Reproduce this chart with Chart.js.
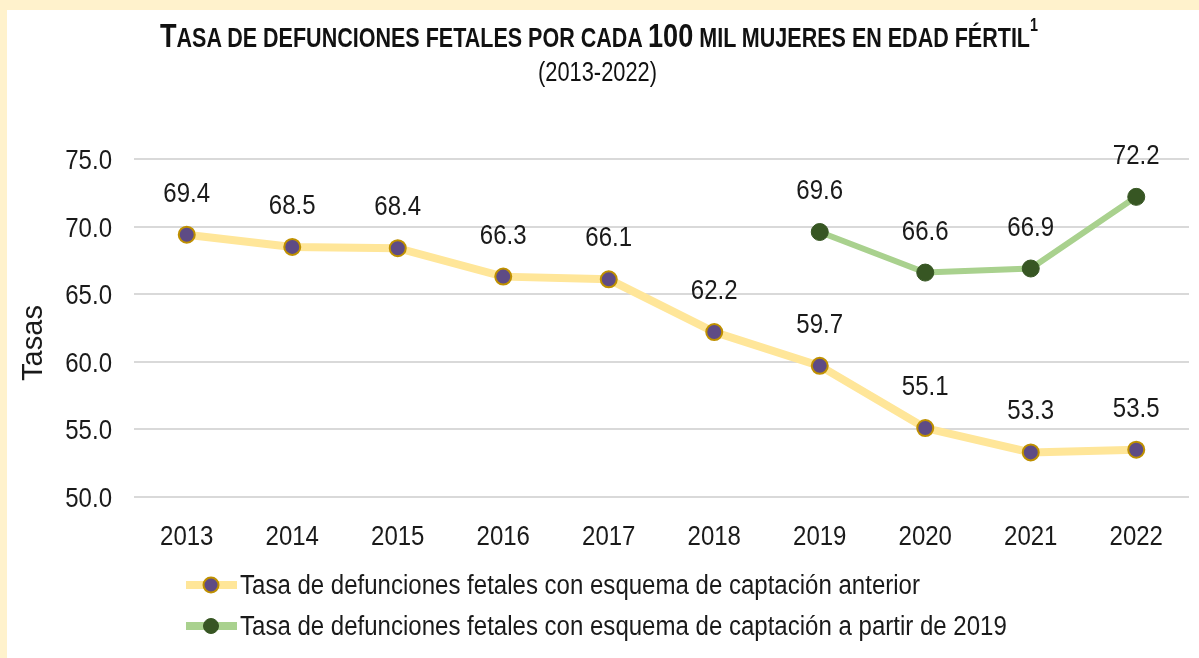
<!DOCTYPE html>
<html><head><meta charset="utf-8">
<script src="https://cdn.jsdelivr.net/npm/chart.js@4.4.1/dist/chart.umd.min.js"></script>
<style>
html,body{margin:0;padding:0;width:1199px;height:658px;background:#FFF2CC;overflow:hidden;}
#panel{position:absolute;left:7px;top:10px;width:1192px;height:648px;background:#fff;}
.hd{position:absolute;white-space:nowrap;font-family:"Liberation Sans",Arial,sans-serif;color:#111;transform-origin:0 0;}
#title{top:8px;left:153px;font-weight:bold;line-height:34px;font-size:27px;}
#title .big{font-size:34px;}
#title sup{font-size:18px;position:relative;top:-2px;vertical-align:top;line-height:18px;}
#sub{top:49px;left:531px;font-size:27px;line-height:27px;}
canvas{position:absolute;left:0;top:0;}
</style></head>
<body><div id="panel">
<canvas id="c" width="1192" height="648"></canvas>
<div id="title" class="hd"><span class="big">T</span>ASA DE DEFUNCIONES FETALES POR CADA <span class="big">100</span> MIL MUJERES EN EDAD FÉRTIL<sup>1</sup></div>
<div id="sub" class="hd">(2013-2022)</div>
</div>
<script>
const years = ["2013","2014","2015","2016","2017","2018","2019","2020","2021","2022"];
const anterior = [69.4, 68.5, 68.4, 66.3, 66.1, 62.2, 59.7, 55.1, 53.3, 53.5];
const desde2019 = [null, null, null, null, null, null, 69.6, 66.6, 66.9, 72.2];
const seriesLabels = ["Tasa de defunciones fetales con esquema de captación anterior",
                      "Tasa de defunciones fetales con esquema de captación a partir de 2019"];
const yAxisTitle = "Tasas";
const FONT = '"Liberation Sans",Arial,sans-serif';
const SX = 0.89;
const TXT = '#1a1a1a';

function fitWidth(id, w){
  const el = document.getElementById(id);
  const s = w / el.getBoundingClientRect().width;
  el.style.transform = 'scaleX(' + s + ')';
}
fitWidth('title', 878);
fitWidth('sub', 119);

function narrowText(ctx, text, x, y, align){
  ctx.save();
  ctx.translate(x, y);
  ctx.scale(SX, 1);
  ctx.textAlign = align;
  ctx.fillText(text, 0, 0);
  ctx.restore();
}

const textPlugin = {
  id:'texts',
  afterDraw(chart){
    const ctx = chart.ctx;
    ctx.save();
    ctx.fillStyle = TXT;
    ctx.textBaseline = 'alphabetic';
    ctx.font = '27px ' + FONT;
    const ys = chart.scales.y;
    ys.ticks.forEach((t, i) => {
      const py = ys.getPixelForTick(i);
      narrowText(ctx, Number(t.value).toFixed(1), 105, py + 10, 'right');
    });
    const xs = chart.scales.x;
    xs.ticks.forEach((t, i) => {
      narrowText(ctx, chart.data.labels[t.value], xs.getPixelForTick(i), 535, 'center');
    });
    chart.data.datasets.forEach((ds, i) => {
      const meta = chart.getDatasetMeta(i);
      meta.data.forEach((pt, j) => {
        const v = ds.data[j];
        if (v == null) return;
        narrowText(ctx, v.toFixed(1), pt.x, pt.y - 33, 'center');
      });
    });
    ctx.save();
    ctx.translate(35, 333);
    ctx.rotate(-Math.PI/2);
    ctx.font = '29px ' + FONT;
    ctx.textAlign = 'center';
    ctx.textBaseline = 'alphabetic';
    ctx.fillText(yAxisTitle, 0, 0);
    ctx.restore();
    const rows = [575, 616];
    chart.data.datasets.forEach((ds, i) => {
      const y = rows[i];
      ctx.strokeStyle = ds.borderColor;
      ctx.lineWidth = 8;
      ctx.beginPath(); ctx.moveTo(179, y); ctx.lineTo(230, y); ctx.stroke();
      ctx.beginPath(); ctx.arc(204, y, 7.5, 0, Math.PI*2);
      ctx.fillStyle = ds.pointBackgroundColor; ctx.fill();
      ctx.lineWidth = ds.pointBorderWidth; ctx.strokeStyle = ds.pointBorderColor; ctx.stroke();
      ctx.fillStyle = TXT;
      ctx.font = '27px ' + FONT;
      narrowText(ctx, ds.label, 233, y + 9, 'left');
    });
    ctx.restore();
  }
};

new Chart(document.getElementById('c'), {
  type:'line',
  data:{
    labels: years,
    datasets:[
      {label: seriesLabels[0], data: anterior, borderColor:'#FFE699', borderWidth:8,
       pointBackgroundColor:'#5E4B85', pointBorderColor:'#BF9000', pointBorderWidth:2,
       pointRadius:8, pointHoverRadius:8, tension:0, spanGaps:false},
      {label: seriesLabels[1], data: desde2019, borderColor:'#A9D18E', borderWidth:6,
       pointBackgroundColor:'#375623', pointBorderColor:'#375623', pointBorderWidth:1,
       pointRadius:8.5, pointHoverRadius:8.5, tension:0, spanGaps:false}
    ]
  },
  options:{
    responsive:false, animation:false, devicePixelRatio:1,
    layout:{padding:{top:149, right:8, bottom:101, left:0}},
    plugins:{legend:{display:false}, tooltip:{enabled:false}, title:{display:false}},
    scales:{
      x:{
        offset:true,
        grid:{display:false, drawTicks:false},
        border:{display:false},
        ticks:{display:false},
        afterFit(s){ s.height = 60; }
      },
      y:{
        min:50, max:75,
        grid:{color:'#D9D9D9', lineWidth:2, drawTicks:false},
        border:{display:false},
        ticks:{display:false, stepSize:5},
        afterFit(s){ s.width = 127; }
      }
    }
  },
  plugins:[textPlugin]
});
</script>
</body></html>
